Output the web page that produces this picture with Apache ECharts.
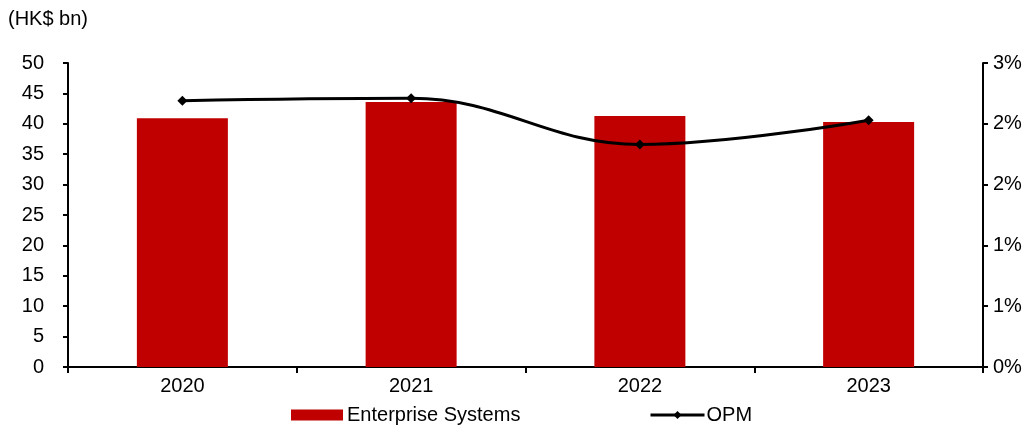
<!DOCTYPE html>
<html>
<head>
<meta charset="utf-8">
<script src="https://cdn.jsdelivr.net/npm/echarts@6/dist/echarts.min.js"></script>
<style>
  html, body { margin: 0; padding: 0; background: #fff; }
  #chart { width: 1036px; height: 428px; }
</style>
</head>
<body>
<div id="chart"></div>
<script>
// Revenue (HK$ bn) and operating profit margin (%) by year
const years = ['2020', '2021', '2022', '2023'];
const enterpriseSystems = [40.9, 43.6, 41.3, 40.3];
const opm = [2.19, 2.21, 1.83, 2.03];

const FONT = '"Liberation Sans", Arial, sans-serif';
const FS = 20;
const axisLine = { show: true, lineStyle: { color: '#000', width: 2 } };
const axisTick = { show: true, length: 5, lineStyle: { color: '#000', width: 2 } };

const chart = echarts.init(document.getElementById('chart'), null, { renderer: 'canvas' });
chart.setOption({
  animation: false,
  textStyle: { fontFamily: FONT },
  grid: { left: 68, right: 53, top: 63, bottom: 61, containLabel: false },
  graphic: [{
    type: 'text', left: 8, top: 9,
    style: { text: '(HK$ bn)', font: FS + 'px ' + FONT, fill: '#000' }
  }],
  legend: [
    {
      data: [{ name: 'Enterprise Systems', icon: 'rect' }], left: 291, top: 405, padding: 0,
      itemWidth: 52, itemHeight: 11, itemGap: 4,
      textStyle: { fontSize: FS, color: '#000', fontFamily: FONT, padding: [0, 0, 0, -1] }
    },
    {
      data: ['OPM'], left: 649, top: 405, padding: 0,
      itemWidth: 54, itemHeight: 10,
      lineStyle: { width: 3, color: '#000' },
      textStyle: { fontSize: FS, color: '#000', fontFamily: FONT, padding: [0, 0, 0, -3] }
    }
  ],
  xAxis: {
    type: 'category', data: years, boundaryGap: true,
    axisLine: axisLine,
    axisTick: { show: true, length: 6, alignWithLabel: false, lineStyle: { color: '#000', width: 2 } },
    axisLabel: { color: '#000', fontSize: FS, fontFamily: FONT, margin: 9 },
    splitLine: { show: false }
  },
  yAxis: [
    {
      type: 'value', min: 0, max: 50, interval: 5,
      axisLine: axisLine, axisTick: axisTick,
      axisLabel: { color: '#000', fontSize: FS, fontFamily: FONT, margin: 24 },
      splitLine: { show: false }
    },
    {
      type: 'value', min: 0, max: 2.5, interval: 0.5, position: 'right',
      axisLine: axisLine, axisTick: axisTick,
      axisLabel: {
        color: '#000', fontSize: FS, fontFamily: FONT, margin: 10,
        formatter: v => Math.round(v) + '%'
      },
      splitLine: { show: false }
    }
  ],
  series: [
    {
      name: 'Enterprise Systems', type: 'bar', data: enterpriseSystems,
      yAxisIndex: 0, barWidth: 91,
      itemStyle: { color: '#C00000' }
    },
    {
      name: 'OPM', type: 'line', data: opm, yAxisIndex: 1,
      smooth: 0.4, symbol: 'diamond', symbolSize: 10,
      lineStyle: { color: '#000', width: 3 },
      itemStyle: { color: '#000' }
    }
  ]
});
</script>
</body>
</html>
